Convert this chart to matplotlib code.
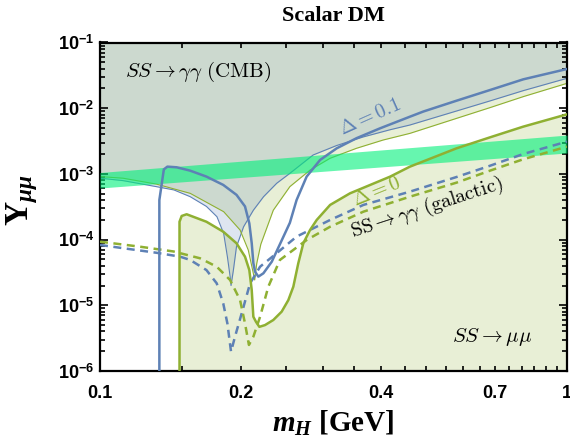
import numpy as np
import matplotlib
matplotlib.use("Agg")
import matplotlib.pyplot as plt
from matplotlib.ticker import FixedLocator, FixedFormatter, NullFormatter

plt.rcParams['font.family'] = ['Liberation Sans', 'DejaVu Sans']
plt.rcParams['font.weight'] = 'bold'
plt.rcParams['mathtext.fontset'] = 'custom'
plt.rcParams['mathtext.rm'] = 'Liberation Sans:bold'
plt.rcParams['mathtext.bf'] = 'Liberation Serif:bold'
plt.rcParams['mathtext.it'] = 'Liberation Serif:bold:italic'

BLUE = '#5E81B5'
GREEN = '#8FB032'

# --- data ---
# CMB bound, Delta = 0.1 (thin blue)
cmb_d01_x = [0.100, 0.112, 0.132, 0.144, 0.156, 0.169, 0.178, 0.184, 0.1874, 0.190, 0.1908,
             0.193, 0.196, 0.203, 0.213, 0.224, 0.239, 0.255, 0.286, 0.321, 0.366, 0.418,
             0.461, 0.580, 0.684, 0.806, 1.0]
cmb_d01_y = [8.6e-4, 7.9e-4, 6.4e-4, 5.7e-4, 4.5e-4, 3.2e-4, 2.23e-4, 1.24e-4, 5.5e-5, 2.7e-5, 2.0e-5,
             3.4e-5, 7.8e-5, 1.57e-4, 2.8e-4, 4.5e-4, 7.2e-4, 1.02e-3, 1.94e-3, 2.7e-3, 3.65e-3, 4.7e-3,
             5.55e-3, 9.06e-3, 1.29e-2, 1.85e-2, 2.85e-2]

# CMB bound, Delta = 0 (thin green)
cmb_d0_x = [0.100, 0.112, 0.132, 0.156, 0.184, 0.1995, 0.2077, 0.2123, 0.2144, 0.2166, 0.221,
            0.235, 0.255, 0.282, 0.311, 0.354, 0.404, 0.461, 0.580, 0.684, 0.806, 1.0]
cmb_d0_y = [9.1e-4, 8.6e-4, 7.0e-4, 5.06e-4, 2.66e-4, 1.40e-4, 6.95e-5, 3.4e-5, 2.43e-5, 4.35e-5, 8.5e-5,
            2.8e-4, 6.4e-4, 1.15e-3, 1.73e-3, 2.45e-3, 3.28e-3, 4.14e-3, 7.0e-3, 1.02e-2, 1.50e-2, 2.39e-2]

# relic (SS -> mu mu), Delta = 0.1 (thick blue)
mumu_d01_x = [0.134, 0.134, 0.137, 0.1394, 0.146, 0.156, 0.169, 0.1836, 0.196, 0.2044, 0.2088, 0.2113,
              0.2130, 0.2148, 0.2183, 0.2238, 0.2332, 0.2428, 0.255, 0.2636, 0.277, 0.296, 0.3212,
              0.3544, 0.3978, 0.461, 0.4925, 0.580, 0.684, 0.806, 1.0]
mumu_d01_y = [1e-6, 4.0e-4, 1.17e-3, 1.29e-3, 1.26e-3, 1.12e-3, 9.1e-4, 6.8e-4, 4.8e-4, 3.2e-4, 1.77e-4, 8.8e-5,
              4.4e-5, 3.25e-5, 2.73e-5, 3.07e-5, 4.6e-5, 8.5e-5, 1.8e-4, 4.0e-4, 9.1e-4, 1.63e-3, 2.45e-3,
              3.5e-3, 4.94e-3, 7.43e-3, 8.9e-3, 1.30e-2, 1.89e-2, 2.75e-2, 3.95e-2]

# relic (SS -> mu mu), Delta = 0 (thick green)
mumu_d0_x = [0.148, 0.148, 0.1496, 0.1533, 0.169, 0.1836, 0.196, 0.2044, 0.2088, 0.2113, 0.2130, 0.2158,
             0.2194, 0.2256, 0.235, 0.2449, 0.2531, 0.2594, 0.2658, 0.2725, 0.2817, 0.2911, 0.311, 0.343,
             0.3787, 0.418, 0.461, 0.580, 0.684, 0.806, 1.0]
mumu_d0_y = [1e-6, 1.87e-4, 2.29e-4, 2.43e-4, 1.87e-4, 1.32e-4, 8.8e-5, 5.5e-5, 3.44e-5, 1.71e-5, 6.7e-6, 5.6e-6,
             4.7e-6, 5.0e-6, 5.97e-6, 8.0e-6, 1.2e-5, 1.92e-5, 4.35e-5, 8.8e-5, 1.40e-4, 1.99e-4, 3.37e-4, 5.06e-4,
             6.78e-4, 9.08e-4, 1.29e-3, 2.45e-3, 3.6e-3, 5.24e-3, 8.07e-3]

# galactic gamma-gamma, Delta = 0.1 (dashed blue)
gal_d01_x = [0.100, 0.112, 0.1322, 0.1484, 0.156, 0.169, 0.1778, 0.1836, 0.1874, 0.1908, 0.1945, 0.2011,
             0.2096, 0.2202, 0.2389, 0.2636, 0.311, 0.3664, 0.461, 0.580, 0.684, 0.806, 1.0]
gal_d01_y = [8.3e-5, 7.4e-5, 6.3e-5, 5.5e-5, 4.9e-5, 3.44e-5, 2.16e-5, 1.07e-5, 5.3e-6, 1.97e-6, 3.3e-6, 7.55e-6,
             2.16e-5, 3.87e-5, 6.2e-5, 1.11e-4, 1.99e-4, 3.37e-4, 5.37e-4, 8.97e-4, 1.33e-3, 2.01e-3, 3.1e-3]

# galactic gamma-gamma, Delta = 0 (dashed green)
gal_d0_x = [0.100, 0.1218, 0.1436, 0.1637, 0.1778, 0.1899, 0.1995, 0.2044, 0.2084, 0.2130, 0.2202, 0.2293,
            0.2428, 0.2770, 0.311, 0.3664, 0.461, 0.580, 0.684, 0.806, 1.0]
gal_d0_y = [9.3e-5, 7.8e-5, 6.6e-5, 5.2e-5, 3.87e-5, 2.43e-5, 1.2e-5, 5.3e-6, 2.49e-6, 3.33e-6, 6.7e-6, 1.92e-5,
            4.9e-5, 9.86e-5, 1.57e-4, 2.66e-4, 4.5e-4, 7.36e-4, 1.12e-3, 1.67e-3, 2.6e-3]

# (g-2)_mu band
band_x = [0.1, 1.0]
band_lo = [6.1e-4, 2.08e-3]
band_hi = [1.05e-3, 3.9e-3]

x_ticks = [0.1, 0.2, 0.4, 0.7, 1.0]
x_ticklabels = ['0.1', '0.2', '0.4', '0.7', '1']
y_ticks = [1e-6, 1e-5, 1e-4, 1e-3, 1e-2, 1e-1]
y_ticklabels = [r'$10^{-6}$', r'$10^{-5}$', r'$10^{-4}$', r'$10^{-3}$', r'$10^{-2}$', r'$10^{-1}$']

YMIN, YMAX = 1e-6, 1e-1

fig = plt.figure(figsize=(5.70, 4.38), dpi=100)
ax = fig.add_axes([100/570, 1-371/438, 467/570, 328.5/438])
ax.set_xscale('log')
ax.set_yscale('log')
ax.set_xlim(0.1, 1.0)
ax.set_ylim(YMIN, YMAX)

# shaded regions
ax.fill_between(cmb_d0_x, cmb_d0_y, YMAX, color=GREEN, alpha=0.2, lw=0, zorder=1)
ax.fill_between(cmb_d01_x, cmb_d01_y, YMAX, color=BLUE, alpha=0.2, lw=0, zorder=1)
ax.fill_between(mumu_d0_x, YMIN, mumu_d0_y, color=GREEN, alpha=0.2, lw=0, zorder=1)

# thin CMB boundaries
ax.plot(cmb_d01_x, cmb_d01_y, color=BLUE, lw=0.8, zorder=2)
ax.plot(cmb_d0_x, cmb_d0_y, color=GREEN, lw=0.8, zorder=2)

# band
ax.fill_between(band_x, band_lo, band_hi, color='#00F07A', alpha=0.6, lw=0, zorder=3)

# galactic dashed
ax.plot(gal_d01_x, gal_d01_y, color=BLUE, lw=1.8, ls=(0, (3.2, 2.2)), zorder=4)
ax.plot(gal_d0_x, gal_d0_y, color=GREEN, lw=1.8, ls=(0, (3.2, 2.2)), zorder=4)

# relic thick
ax.plot(mumu_d01_x, mumu_d01_y, color=BLUE, lw=1.8, zorder=5)
ax.plot(mumu_d0_x, mumu_d0_y, color=GREEN, lw=1.8, zorder=5)

# annotations
ax.text(0.1131, 0.0356, r'$SS \to \gamma\gamma\ (\mathrm{CMB})$', math_fontfamily='cm',
        fontsize=15, ha='left', va='center', zorder=6)
ax.text(0.379, 7.3e-3, r'$\Delta = 0.1$', math_fontfamily='cm', fontsize=14.5, color=BLUE,
        rotation=24, ha='center', va='center', rotation_mode='anchor', zorder=6)
ax.text(0.391, 5.36e-4, r'$\Delta = 0$', math_fontfamily='cm', fontsize=14.5, color=GREEN,
        rotation=22, ha='center', va='center', rotation_mode='anchor', zorder=6)
ax.text(0.501, 2.99e-4, r'$\mathrm{SS} \to \gamma\gamma\ (\mathrm{galactic})$', math_fontfamily='cm',
        fontsize=14.5, rotation=18, ha='center', va='center', rotation_mode='anchor', zorder=6)
ax.text(0.691, 3.29e-6, r'$SS \to \mu\mu$', math_fontfamily='cm', fontsize=15,
        ha='center', va='center', zorder=6)

# ticks
ax.xaxis.set_major_locator(FixedLocator(x_ticks))
ax.xaxis.set_major_formatter(FixedFormatter(x_ticklabels))
ax.xaxis.set_minor_locator(FixedLocator(np.arange(0.15, 1.0, 0.05)))
ax.xaxis.set_minor_formatter(NullFormatter())
ax.yaxis.set_major_locator(FixedLocator(y_ticks))
ax.yaxis.set_major_formatter(FixedFormatter(y_ticklabels))
ax.yaxis.set_minor_locator(FixedLocator([m * 10.0**e for e in range(-6, -1) for m in range(2, 10)]))
ax.yaxis.set_minor_formatter(NullFormatter())

ax.tick_params(which='both', direction='in', top=True, right=True, width=1.2, color='black')
ax.tick_params(axis='x', which='both', length=3.5, pad=10, labelsize=13)
ax.tick_params(axis='y', which='major', length=6, pad=4, labelsize=13)
ax.tick_params(axis='y', which='minor', length=3.5)
for lab in ax.get_xticklabels():
    lab.set_fontweight('bold')
for sp in ax.spines.values():
    sp.set_linewidth(1.6)

ax.set_xlabel(r'$m_H$ [GeV]', fontsize=21, fontfamily='Liberation Serif', fontweight='bold', labelpad=5)
ax.set_ylabel(r'$\mathbf{Y}_{\mu\mu}$', fontsize=24, fontfamily='Liberation Serif', fontweight='bold',
              va='center')
ax.yaxis.set_label_coords(-0.167, 0.52)
fig.text(333.5/570, 1-16/438, 'Scalar DM', fontsize=16, fontfamily='Liberation Serif', fontweight='bold',
         ha='center', va='center')

fig.savefig('out.png', dpi=100)
